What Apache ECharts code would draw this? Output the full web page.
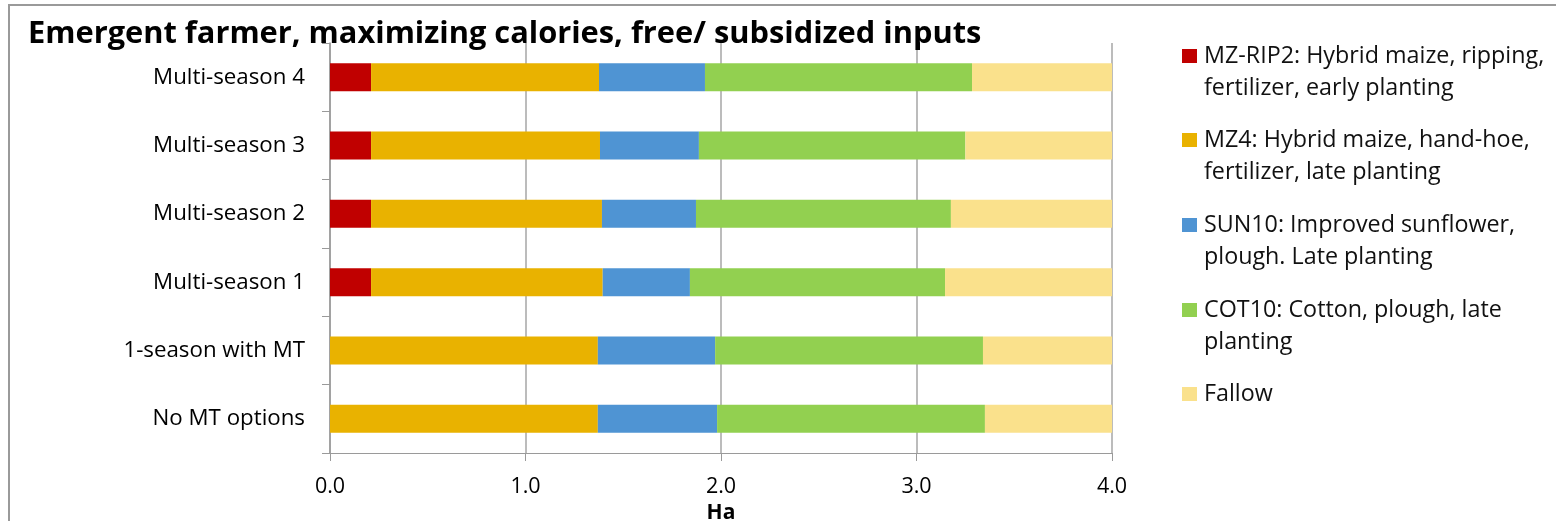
<!DOCTYPE html>
<html>
<head>
<meta charset="utf-8">
<script src="https://cdn.jsdelivr.net/npm/echarts@6/dist/echarts.min.js"></script>
<style>
html,body{margin:0;padding:0;background:#fff;}
#chart{width:1556px;height:521px;}
</style>
</head>
<body>
<div id="chart"></div>
<script>
// ---- data ----
const titleText = 'Emergent farmer, maximizing calories, free/ subsidized inputs';
const categories = ['No MT options', '1-season with MT', 'Multi-season 1', 'Multi-season 2', 'Multi-season 3', 'Multi-season 4'];
const seriesNames = [
  'MZ-RIP2: Hybrid maize, ripping,\nfertilizer, early planting',
  'MZ4: Hybrid maize, hand-hoe,\nfertilizer, late planting',
  'SUN10: Improved sunflower,\nplough. Late planting',
  'COT10: Cotton, plough, late\nplanting',
  'Fallow'
];
const mzRip2 = [0, 0, 0.21, 0.21, 0.21, 0.21];
const mz4    = [1.37, 1.37, 1.185, 1.181, 1.171, 1.166];
const sun10  = [0.61, 0.60, 0.446, 0.481, 0.506, 0.542];
const cot10  = [1.37, 1.37, 1.305, 1.304, 1.363, 1.366];
const fallow = [0.65, 0.66, 0.854, 0.824, 0.750, 0.716];
const xTickValues = [0, 1, 2, 3, 4];
const xAxisName = 'Ha';

// ---- styling ----
const colors = ['#C00000', '#E9B200', '#4F94D3', '#92D050', '#FAE18C'];
const FONT = '"Open Sans", "Noto Sans", sans-serif';
const seriesData = [mzRip2, mz4, sun10, cot10, fallow];
const legendCenters = [56, 140, 225, 310, 394];
const LH = 32;

const chart = echarts.init(document.getElementById('chart'), null, {renderer: 'canvas'});

const legends = seriesNames.map((name, i) => {
  const multi = name.indexOf('\n') >= 0;
  const h = multi ? LH * 3 : LH;
  return {
    data: [name],
    orient: 'vertical',
    left: 1182,
    top: legendCenters[i] - h / 2,
    padding: 0,
    itemWidth: 15,
    itemHeight: 14,
    itemGap: 0,
    icon: 'rect',
    selectedMode: false,
    formatter: (n) => (n.indexOf('\n') >= 0 ? '\n' + n : n),
    textStyle: {fontFamily: FONT, fontSize: 23.3, color: '#111', lineHeight: LH, padding: [0, 0, 0, 2]}
  };
});

const option = {
  animation: false,
  backgroundColor: '#fff',
  title: {
    text: titleText,
    left: 28,
    top: 19,
    padding: 0,
    textStyle: {fontFamily: FONT, fontSize: 30.8, fontWeight: 'bold', color: '#000'}
  },
  legend: legends,
  grid: {left: 330, right: 444, top: 43, bottom: 68, containLabel: false, outerBoundsMode: 'none'},
  xAxis: {
    type: 'value',
    min: 0,
    max: 4,
    interval: 1,
    name: xAxisName,
    nameLocation: 'middle',
    nameGap: 40,
    nameTextStyle: {fontFamily: FONT, fontSize: 21, fontWeight: 'bold', color: '#000'},
    axisLine: {show: true, lineStyle: {color: '#9a9a9a', width: 1}},
    axisTick: {show: true, length: 8, lineStyle: {color: '#9a9a9a'}},
    axisLabel: {
      fontFamily: FONT, fontSize: 21.5, color: '#000', margin: 23,
      formatter: (v) => (xTickValues.indexOf(v) >= 0 ? v.toFixed(1) : '')
    },
    splitLine: {show: true, lineStyle: {color: '#a6a6a6', width: 1.5}}
  },
  yAxis: {
    type: 'category',
    data: categories,
    axisLine: {show: true, lineStyle: {color: '#9a9a9a', width: 1.5}},
    axisTick: {show: true, length: 8, lineStyle: {color: '#9a9a9a'}},
    axisLabel: {fontFamily: FONT, fontSize: 22.3, color: '#000', margin: 25},
    splitLine: {show: false}
  },
  series: seriesNames.map((name, i) => ({
    name: name,
    type: 'bar',
    stack: 'total',
    barCategoryGap: '59%',
    data: seriesData[i],
    itemStyle: {color: colors[i]},
    emphasis: {disabled: true}
  })),
  graphic: [{
    type: 'rect',
    shape: {x: 9, y: 5, width: 1700, height: 700},
    style: {fill: 'none', stroke: '#9a9a9a', lineWidth: 2},
    silent: true,
    z: 100
  }]
};
chart.setOption(option);
</script>
</body>
</html>
